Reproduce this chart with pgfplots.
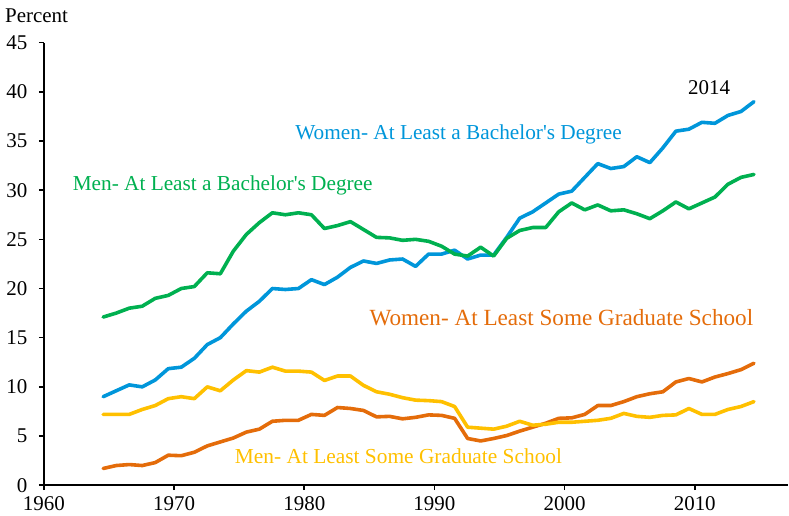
\documentclass[border=0pt]{standalone}
\usepackage{pgfplots}
\usepackage{pgfplotstable}
\pgfplotsset{compat=1.18}
\usepackage{fontspec}
\setmainfont{Liberation Serif}[Ligatures=TeXOff]
\definecolor{cblue}{RGB}{0,150,218}
\definecolor{cgreen}{RGB}{0,176,80}
\definecolor{corange}{RGB}{228,108,10}
\definecolor{cyellow}{RGB}{255,192,0}
\pgfplotstableread{
Year Wba Mba Wgr Mgr
1964 9.0 17.1 1.7 7.2
1965 9.6 17.5 2.0 7.2
1966 10.2 18.0 2.1 7.2
1967 10.0 18.2 2.0 7.7
1968 10.7 19.0 2.3 8.1
1969 11.85 19.3 3.05 8.8
1970 12.0 20.0 3.0 9.0
1971 12.9 20.2 3.35 8.8
1972 14.3 21.6 4.0 10.0
1973 15.0 21.5 4.4 9.6
1974 16.4 23.8 4.8 10.7
1975 17.7 25.5 5.4 11.65
1976 18.7 26.7 5.7 11.5
1977 20.0 27.7 6.5 12.0
1978 19.9 27.5 6.6 11.6
1979 20.0 27.7 6.6 11.6
1980 20.9 27.5 7.2 11.5
1981 20.4 26.1 7.1 10.65
1982 21.15 26.4 7.9 11.1
1983 22.15 26.8 7.8 11.1
1984 22.8 26.0 7.6 10.15
1985 22.55 25.2 6.95 9.5
1986 22.9 25.15 7.0 9.25
1987 23.0 24.9 6.75 8.9
1988 22.25 25.0 6.9 8.65
1989 23.5 24.8 7.15 8.6
1990 23.5 24.3 7.1 8.5
1991 23.9 23.5 6.8 8.0
1992 23.0 23.3 4.75 5.9
1993 23.4 24.2 4.5 5.8
1994 23.4 23.3 4.75 5.7
1995 25.2 25.1 5.05 6.0
1996 27.15 25.9 5.5 6.5
1997 27.8 26.2 5.9 6.1
1998 28.7 26.2 6.3 6.2
1999 29.6 27.8 6.8 6.4
2000 29.9 28.7 6.85 6.4
2001 31.3 28.0 7.2 6.5
2002 32.7 28.5 8.1 6.6
2003 32.2 27.9 8.1 6.8
2004 32.4 28.0 8.5 7.3
2005 33.4 27.6 9.0 7.0
2006 32.8 27.1 9.3 6.9
2007 34.3 27.9 9.5 7.1
2008 36.0 28.8 10.5 7.15
2009 36.2 28.1 10.85 7.8
2010 36.9 28.7 10.5 7.2
2011 36.8 29.3 11.0 7.2
2012 37.6 30.6 11.35 7.7
2013 38.0 31.3 11.75 8.0
2014 39.0 31.6 12.4 8.5
}\datatable
\begin{document}
\begin{tikzpicture}
\begin{axis}[
  at={(0pt,0pt)}, anchor=south west,
  scale only axis,
  width=745pt, height=443pt,
  xmin=1960, xmax=2017.18,
  ymin=0, ymax=45,
  axis lines*=left,
  axis line style={line width=1.6pt, black, -},
  xtick={1960,1970,...,2010},
  ytick={0,5,...,45},
  tick align=outside,
  major tick length=5pt,
  tick style={line width=1.6pt, black},
  /pgf/number format/assume math mode=true,
  /pgf/number format/1000 sep={},
  tick label style={font=\fontsize{21}{25}\selectfont},
  yticklabel style={anchor=east, xshift=-8pt},
  xticklabel style={anchor=north, yshift=-3pt},
  clip=false,
  every axis plot/.append style={line width=3.6pt, line join=round, line cap=round},
]
\addplot[corange] table[x expr=\thisrow{Year}+0.55, y=Wgr] {\datatable};
\addplot[cyellow] table[x expr=\thisrow{Year}+0.55, y=Mgr] {\datatable};
\addplot[cblue] table[x expr=\thisrow{Year}+0.55, y=Wba] {\datatable};
\addplot[cgreen] table[x expr=\thisrow{Year}+0.55, y=Mba] {\datatable};
\node[anchor=west, inner sep=0pt, text=cblue, font=\fontsize{21.3}{25}\selectfont] at (axis cs:1979.3,35.7) {Women- At Least a Bachelor's Degree};
\node[anchor=west, inner sep=0pt, text=cgreen, font=\fontsize{21.3}{25}\selectfont] at (axis cs:1962.2,30.5) {Men- At Least a Bachelor's Degree};
\node[anchor=west, inner sep=0pt, text=corange, font=\fontsize{23.2}{27}\selectfont] at (axis cs:1985.0,17.0) {Women- At Least Some Graduate School};
\node[anchor=west, inner sep=0pt, text=cyellow, font=\fontsize{21.4}{25}\selectfont] at (axis cs:1974.66,3.0) {Men- At Least Some Graduate School};
\node[inner sep=0pt, text=black, font=\fontsize{21}{25}\selectfont] at (axis cs:2011.1,40.4) {2014};
\node[anchor=west, inner sep=0pt, text=black, font=\fontsize{21}{25}\selectfont] at (axis cs:1957.0,47.7) {Percent};
\end{axis}
\path[use as bounding box] (-44pt,-30.3pt) rectangle (745pt,485.7pt);
\end{tikzpicture}
\end{document}
